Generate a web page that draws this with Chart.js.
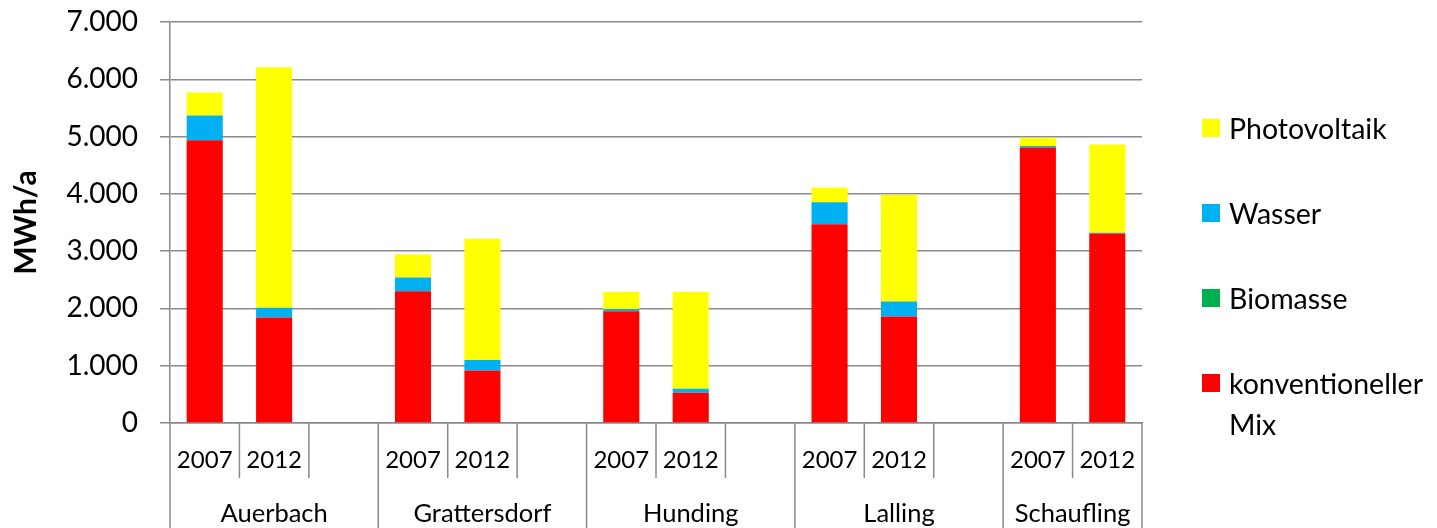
<!DOCTYPE html>
<html>
<head>
<meta charset="utf-8">
<script src="https://cdn.jsdelivr.net/npm/chart.js@4"></script>
<style>
  html, body { margin: 0; padding: 0; background: #fff; }
  #wrap { position: relative; width: 1437px; height: 528px; }
  #legend { position: absolute; left: 1202px; top: 0; font-family: Lato, sans-serif; font-size: 28.5px; color: #000; }
  .item { position: absolute; left: 0; white-space: nowrap; }
  .box { position: absolute; left: 0; width: 18px; height: 18px; }
  .txt { position: absolute; left: 27px; line-height: 41px; }
</style>
</head>
<body>
<div id="wrap">
  <canvas id="chart" width="1437" height="528"></canvas>
  <div id="legend"></div>
</div>
<script>
// slots: 3 per town (2007, 2012, gap), last town without gap
const slotLabels = ["2007", "2012", "", "2007", "2012", "", "2007", "2012", "", "2007", "2012", "", "2007", "2012"];
const towns = ["Auerbach", "Grattersdorf", "Hunding", "Lalling", "Schaufling"];
const townSlots = [3, 3, 3, 3, 2];

const konventionell = [4935, 1840, null, 2300, 915, null, 1950, 530, null, 3470, 1860, null, 4810, 3310];
const biomasse      = [0, 0, null, 0, 0, null, 0, 0, null, 0, 0, null, 0, 0];
const wasser        = [435, 170, null, 240, 185, null, 40, 70, null, 385, 260, null, 25, 10];
const photovoltaik  = [400, 4200, null, 400, 2115, null, 300, 1690, null, 255, 1865, null, 145, 1540];

const yTicks = [0, 1000, 2000, 3000, 4000, 5000, 6000, 7000];

const gridColor = "#8a8a8a";
const font = "Lato, sans-serif";

// lower axis: years, town names and separator lines
const townAxis = {
  id: "townAxis",
  afterDraw(chart) {
    const ctx = chart.ctx;
    const x = chart.scales.x;
    const bottom = chart.chartArea.bottom;
    const slotW = x.getPixelForValue(1) - x.getPixelForValue(0);

    ctx.save();
    ctx.strokeStyle = gridColor;
    ctx.lineWidth = 1.5;
    ctx.fillStyle = "#000";
    ctx.textAlign = "center";
    ctx.textBaseline = "middle";

    let start = 0;
    townSlots.forEach((n, g) => {
      const left = x.getPixelForValue(start) - slotW / 2;
      const right = x.getPixelForValue(start + n - 1) + slotW / 2;
      // group border (full height)
      ctx.beginPath();
      ctx.moveTo(left, bottom);
      ctx.lineTo(left, 528);
      ctx.stroke();
      if (g === townSlots.length - 1) {
        ctx.beginPath();
        ctx.moveTo(right, bottom);
        ctx.lineTo(right, 528);
        ctx.stroke();
      }
      ctx.font = "24px " + font;
      for (let i = 0; i < n; i++) {
        const cx = x.getPixelForValue(start + i);
        ctx.fillText(slotLabels[start + i], cx, bottom + 37);
        if (i > 0) {
          ctx.beginPath();
          ctx.moveTo(cx - slotW / 2, bottom);
          ctx.lineTo(cx - slotW / 2, bottom + 55);
          ctx.stroke();
        }
      }
      ctx.font = "25.5px " + font;
      ctx.fillText(towns[g], (left + right) / 2, bottom + 91);
      start += n;
    });
    ctx.restore();
  }
};

const chart = new Chart(document.getElementById("chart"), {
  type: "bar",
  data: {
    labels: slotLabels.map((l, i) => String(i)),
    datasets: [
      { label: "konventioneller Mix", data: konventionell, backgroundColor: "#ff0000" },
      { label: "Biomasse", data: biomasse, backgroundColor: "#00b050" },
      { label: "Wasser", data: wasser, backgroundColor: "#00b0f0" },
      { label: "Photovoltaik", data: photovoltaik, backgroundColor: "#ffff00" }
    ]
  },
  options: {
    responsive: false,
    animation: false,
    layout: { padding: { left: 0, right: 295, top: 22, bottom: 97 } },
    datasets: { bar: { categoryPercentage: 1, barPercentage: 0.52, borderWidth: 0 } },
    plugins: { legend: { display: false }, tooltip: { enabled: false } },
    scales: {
      x: {
        stacked: true,
        grid: { display: false },
        border: { display: true, color: gridColor, width: 1.5 },
        ticks: { display: false }
      },
      y: {
        stacked: true,
        min: 0,
        max: 7000,
        afterFit(scale) {
          scale.width = 170;
          scale.paddingTop = 0;
          scale.paddingBottom = 0;
        },
        afterBuildTicks(scale) { scale.ticks = yTicks.map(v => ({ value: v })); },
        grid: { color: gridColor, lineWidth: 1.5, tickLength: 10 },
        border: { display: true, color: gridColor, width: 1.5 },
        ticks: {
          padding: 22,
          color: "#000",
          font: { family: font, size: 28 },
          callback: v => v.toLocaleString("de-DE")
        },
        title: {
          display: true,
          text: "MWh/a",
          color: "#000",
          font: { family: font, size: 30, weight: "bold" },
          padding: { top: 8, bottom: 0 }
        }
      }
    }
  },
  plugins: [townAxis]
});

// legend on the right, top item = top of stack
const legendTops = [108, 193, 278, 363];
const legendEl = document.getElementById("legend");
chart.data.datasets.slice().reverse().forEach((ds, i) => {
  const item = document.createElement("div");
  item.className = "item";
  item.style.top = legendTops[i] + "px";
  const box = document.createElement("div");
  box.className = "box";
  box.style.background = ds.backgroundColor;
  box.style.top = "11px";
  const txt = document.createElement("div");
  txt.className = "txt";
  txt.innerHTML = ds.label.replace(" ", "<br>");
  item.appendChild(box);
  item.appendChild(txt);
  legendEl.appendChild(item);
});
</script>
</body>
</html>
